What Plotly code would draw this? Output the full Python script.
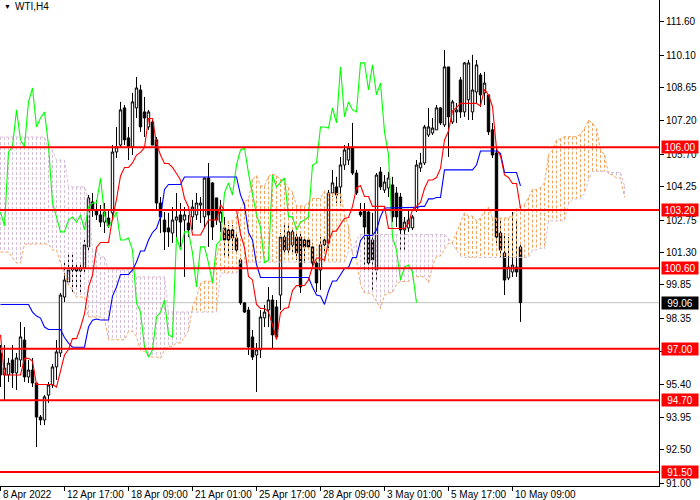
import numpy as np
import pandas as pd
import plotly.graph_objects as go

SANDY, THISTLE = "#F4A460", "#D8BFD8"
FONT = "Liberation Sans"

# WTI H4 candles, bar 0 = 8 Apr 2022
opens = [
    96.81, 95.83, 95.83, 96.50, 95.92, 96.50, 97.39, 95.74, 96.05, 95.47,
    93.95, 93.82, 94.93, 95.38, 96.19, 96.81, 99.31, 99.98, 100.52, 100.61,
    100.48, 100.61, 101.55, 103.56, 103.20, 102.98, 102.66, 102.84, 103.07, 105.79,
    106.10, 107.76, 106.42, 106.02, 107.76, 108.56, 107.58, 106.91, 107.13, 106.33,
    103.51, 102.75, 102.40, 102.17, 102.75, 102.98, 102.75, 102.62, 102.89, 102.98,
    103.42, 102.89, 104.63, 104.41, 103.74, 102.66, 102.40, 102.31, 102.31, 101.95,
    100.97, 99.05, 98.73, 97.53, 96.72, 96.95, 98.38, 98.73, 99.18, 98.87,
    99.40, 101.99, 101.41, 101.64, 101.99, 101.99, 101.86, 101.86, 101.55, 100.83,
    100.52, 101.64, 101.73, 103.96, 104.23, 104.23, 105.21, 105.43, 105.97, 104.85,
    103.11, 103.20, 103.11, 101.86, 100.52, 104.90, 104.09, 104.18, 104.32, 103.96,
    103.78, 102.31, 102.40, 102.40, 103.20, 105.08, 105.30, 106.55, 106.64, 106.78,
    107.76, 107.00, 109.59, 107.13, 107.58, 109.01, 107.58, 108.12, 107.58, 108.47,
    109.23, 108.43, 108.34, 106.78, 105.75, 102.17, 101.28, 100.16, 100.43, 100.65,
    101.55,
]
highs = [
    97.17, 97.17, 96.59, 97.17, 96.81, 98.20, 97.97, 96.50, 96.59, 95.47,
    94.04, 94.93, 95.52, 96.32, 97.39, 99.49, 100.83, 101.32, 101.28, 100.83,
    100.83, 101.86, 103.87, 103.96, 103.65, 103.42, 103.51, 103.20, 106.10, 106.91,
    108.03, 107.89, 106.91, 108.43, 109.14, 108.79, 108.25, 107.67, 107.22, 106.46,
    103.78, 103.11, 103.07, 103.33, 103.96, 103.51, 103.33, 102.98, 103.65, 103.96,
    103.78, 104.63, 105.30, 104.45, 103.74, 103.65, 102.89, 102.53, 102.53, 102.22,
    101.06, 99.09, 98.87, 97.84, 97.26, 98.73, 98.96, 99.76, 99.40, 99.18,
    102.17, 102.53, 102.62, 102.40, 102.17, 102.17, 101.99, 101.99, 101.73, 100.97,
    101.99, 101.99, 104.09, 104.99, 104.68, 105.57, 106.10, 106.19, 107.09, 104.99,
    103.51, 103.51, 103.20, 103.07, 104.85, 105.12, 104.76, 104.90, 104.68, 104.23,
    103.96, 102.89, 103.20, 102.98, 105.43, 105.75, 107.00, 107.76, 107.31, 107.89,
    107.80, 110.35, 109.59, 108.12, 107.98, 109.14, 109.81, 109.90, 110.13, 109.90,
    109.32, 109.37, 108.34, 107.09, 106.02, 102.75, 102.17, 101.99, 103.11, 102.75,
    101.64,
]
lows = [
    95.29, 94.71, 95.52, 95.25, 95.16, 96.19, 95.52, 95.47, 95.29, 92.61,
    93.59, 93.59, 94.58, 95.25, 95.61, 96.63, 99.09, 99.85, 99.54, 99.76,
    99.54, 100.43, 101.41, 102.89, 102.75, 102.44, 102.17, 102.40, 102.84, 105.52,
    105.97, 106.10, 105.43, 105.66, 107.31, 106.69, 106.46, 106.78, 106.10, 103.20,
    102.17, 101.41, 101.55, 101.73, 101.86, 101.55, 100.21, 101.99, 102.31, 102.75,
    102.62, 102.44, 101.55, 101.86, 102.53, 102.22, 101.10, 101.10, 101.41, 101.32,
    98.96, 98.60, 96.72, 96.50, 95.07, 96.59, 97.97, 97.97, 97.03, 97.53,
    98.73, 101.28, 101.28, 101.28, 100.97, 99.49, 100.83, 101.41, 100.65, 99.54,
    99.63, 101.28, 101.50, 103.78, 103.51, 103.51, 104.99, 105.21, 104.76, 103.87,
    102.89, 100.52, 100.52, 99.63, 100.07, 104.09, 103.96, 103.78, 102.66, 102.44,
    101.32, 101.41, 102.22, 102.31, 103.11, 104.90, 105.21, 106.46, 106.55, 106.78,
    107.00, 106.91, 105.57, 107.04, 107.09, 107.31, 107.36, 107.22, 107.22, 107.98,
    107.80, 107.89, 106.55, 105.52, 101.73, 101.10, 99.40, 100.07, 100.21, 100.21,
    98.20,
]
closes = [
    95.83, 96.14, 96.36, 95.92, 96.59, 97.53, 95.74, 96.05, 95.47, 93.95,
    93.82, 94.85, 95.38, 96.19, 96.86, 99.40, 100.07, 100.52, 100.61, 100.48,
    100.61, 101.64, 103.74, 103.20, 102.98, 102.66, 103.11, 102.49, 105.79, 106.02,
    107.67, 106.33, 106.02, 108.03, 108.65, 106.91, 107.31, 107.58, 106.10, 103.51,
    102.89, 102.22, 102.22, 102.75, 102.89, 102.66, 102.98, 102.31, 103.33, 103.51,
    103.51, 104.63, 102.98, 102.44, 102.75, 103.11, 101.86, 101.86, 101.95, 101.41,
    99.05, 98.64, 97.08, 96.63, 96.95, 98.42, 98.64, 99.18, 97.62, 97.53,
    101.99, 101.41, 102.22, 102.22, 101.28, 99.76, 101.55, 101.55, 100.83, 99.94,
    101.64, 101.86, 103.96, 104.41, 103.87, 105.21, 105.88, 105.97, 104.85, 103.96,
    102.98, 102.44, 100.83, 100.97, 104.76, 104.23, 104.45, 104.63, 102.89, 102.89,
    102.31, 102.66, 102.75, 102.89, 105.21, 105.30, 106.91, 106.91, 106.86, 107.76,
    107.09, 109.59, 107.36, 108.03, 107.67, 107.58, 109.77, 109.77, 108.56, 109.68,
    108.34, 108.87, 106.69, 105.66, 101.99, 101.41, 100.07, 100.65, 100.74, 100.43,
    99.06,
]

# Ichimoku values on the left edge depend on bars before the window
tenkan_lead = [97.62, 95.83, 95.83, 95.83, 95.83, 95.83, 96.57, 96.57]
kijun_lead = [98.98, 98.98, 98.98, 98.98, 98.98, 98.98, 98.98, 98.98,
              98.64, 98.46, 98.37, 97.97, 97.86, 97.86, 97.86, 97.86,
              97.50, 97.25, 97.07, 97.07, 97.07, 97.07, 97.97, 98.28, 98.33]
span_a_lead = [101.32, 101.32, 101.32, 101.06, 100.83, 100.83, 101.68, 101.68,
               101.68, 101.68, 101.68, 101.68, 101.68, 101.41, 101.41, 100.83,
               100.30, 99.85, 99.62, 99.31, 99.31, 99.31, 98.42, 98.42, 98.42, 98.42]
span_b_lead = [106.46, 106.46, 106.46, 106.46, 106.46, 106.46, 106.46, 106.46,
               106.46, 106.46, 106.46, 106.46, 105.88, 105.88, 105.43, 105.43,
               105.43, 104.23, 104.23, 104.23, 104.23, 104.23, 103.65, 101.41,
               101.41, 101.10, 101.10, 100.52, 100.52, 100.52, 100.52, 100.52,
               100.52, 100.52, 100.21, 100.21, 100.21, 100.21, 100.21, 100.21,
               100.21, 100.21, 98.64, 98.64, 98.64, 98.64, 98.64, 98.64,
               98.64, 98.64, 98.64, 98.64, 98.64, 98.64, 98.64, 100.38,
               100.38, 100.38, 100.38, 100.38, 100.87, 100.87, 100.87, 100.87,
               100.87, 100.87, 100.87, 100.87, 100.87, 100.87, 100.87, 100.87,
               100.87, 100.87, 100.87, 100.87, 100.87]

price_ticks = [111.60, 110.10, 108.65, 107.20, 105.70, 104.25, 102.75, 101.30,
               99.85, 98.35, 96.90, 95.40, 93.95, 92.50, 91.00]
time_tick_bars = [0, 16, 32, 48, 64, 80, 96, 112, 128]
time_tick_labels = ["8 Apr 2022", "12 Apr 17:00", "18 Apr 09:00", "21 Apr 01:00",
                    "25 Apr 17:00", "28 Apr 09:00", "3 May 01:00", "5 May 17:00",
                    "10 May 09:00"]
levels = [106.00, 103.20, 100.60, 97.00, 94.70, 91.50]
bid = 99.06

df = pd.DataFrame(dict(open=opens, high=highs, low=lows, close=closes))
n = len(df)
SHIFT = 26


def midline(period):
    return (df["high"].rolling(period).max() + df["low"].rolling(period).min()) / 2


tenkan = midline(9)
tenkan.iloc[:len(tenkan_lead)] = tenkan_lead
kijun = midline(26)
kijun.iloc[:len(kijun_lead)] = kijun_lead
span_a = np.array(span_a_lead + list(((tenkan + kijun) / 2).values))
span_b = np.array(span_b_lead + list(midline(52).values[51:]))
cloud_x = np.arange(len(span_a))

# dotted hatch of the cloud, one stroke per bar
hatch = {SANDY: ([], []), THISTLE: ([], [])}
for k, a, b in zip(cloud_x, span_a, span_b):
    xs, ys = hatch[SANDY if a >= b else THISTLE]
    xs += [k, k, None]
    ys += [max(a, b), min(a, b), None]

fig = go.Figure()
fig.add_trace(go.Candlestick(
    x=df.index, open=df["open"], high=df["high"], low=df["low"], close=df["close"],
    increasing=dict(fillcolor="white", line=dict(color="black", width=1)),
    decreasing=dict(fillcolor="black", line=dict(color="black", width=1)),
    whiskerwidth=0, showlegend=False, hoverinfo="skip",
))
for color, (xs, ys) in hatch.items():
    fig.add_trace(go.Scatter(x=xs, y=ys, mode="lines", showlegend=False, hoverinfo="skip",
                             line=dict(color=color, width=1, dash="3px,2px")))
fig.add_trace(go.Scatter(x=cloud_x, y=span_a, mode="lines", showlegend=False,
                         line=dict(color=SANDY, width=1, dash="3px,2px")))
fig.add_trace(go.Scatter(x=cloud_x, y=span_b, mode="lines", showlegend=False,
                         line=dict(color=THISTLE, width=1, dash="3px,2px")))
fig.add_trace(go.Scatter(x=df.index[SHIFT:] - SHIFT, y=df["close"][SHIFT:], mode="lines",
                         showlegend=False, line=dict(color="#00FF00", width=1.1)))
fig.add_trace(go.Scatter(x=df.index, y=kijun, mode="lines", showlegend=False,
                         line=dict(color="#0000FF", width=1.1)))
fig.add_trace(go.Scatter(x=df.index, y=tenkan, mode="lines", showlegend=False,
                         line=dict(color="#FF0000", width=1.1)))

fig.add_hline(y=bid, line=dict(color="#C0C0C0", width=1), layer="below")
for lv in levels:
    fig.add_hline(y=lv, line=dict(color="#FF0000", width=2))

# price tags on the right scale
for lv in levels:
    fig.add_annotation(x=1, xref="paper", y=lv, yref="y", text=f"{lv:.2f}",
                       showarrow=False, xanchor="left", xshift=2, width=34, height=10,
                       bgcolor="#FF0000", borderpad=1,
                       font=dict(color="white", size=10, family=FONT))
fig.add_annotation(x=1, xref="paper", y=bid, yref="y", text=f"{bid:.2f}",
                   showarrow=False, xanchor="left", xshift=2, width=34, height=10,
                   bgcolor="black", borderpad=1,
                   font=dict(color="white", size=10, family=FONT))

# time labels start at their tick, MT4 style
for pos, lab in zip(time_tick_bars, time_tick_labels):
    fig.add_annotation(x=pos, xref="x", y=0, yref="paper", text=lab, showarrow=False,
                       xanchor="left", yanchor="top", xshift=0, yshift=-1,
                       font=dict(color="black", size=10, family=FONT))

fig.add_annotation(x=0, xref="paper", y=1, yref="paper", text="▼", showarrow=False,
                   xanchor="left", yanchor="top", xshift=2, yshift=-1,
                   font=dict(color="black", size=7, family=FONT))
fig.add_annotation(x=0, xref="paper", y=1, yref="paper", text="WTI,H4", showarrow=False,
                   xanchor="left", yanchor="top", xshift=13, yshift=1,
                   font=dict(color="black", size=10, family=FONT))

fig.update_layout(
    width=700, height=500,
    paper_bgcolor="white", plot_bgcolor="white",
    margin=dict(l=0, r=41, t=0, b=14, pad=0),
    showlegend=False, boxgap=0.15,
    font=dict(family=FONT, size=10, color="black"),
    xaxis=dict(range=[-0.125, 164.625], rangeslider=dict(visible=False),
               showgrid=False, zeroline=False, showline=True, linecolor="black",
               linewidth=1, ticks="outside", ticklen=4, tickcolor="black",
               tickvals=time_tick_bars, showticklabels=False),
    yaxis=dict(range=[90.87, 112.58], side="right", showgrid=False, zeroline=False,
               showline=True, linecolor="black", linewidth=1, ticks="outside",
               ticklen=4, tickcolor="black", tickvals=price_ticks,
               ticktext=[f"{v:.2f}" for v in price_ticks],
               tickfont=dict(size=10, family=FONT, color="black")),
)

fig.write_html("out.html", config={"displayModeBar": False},
               post_script="document.body.style.margin = '0';")
